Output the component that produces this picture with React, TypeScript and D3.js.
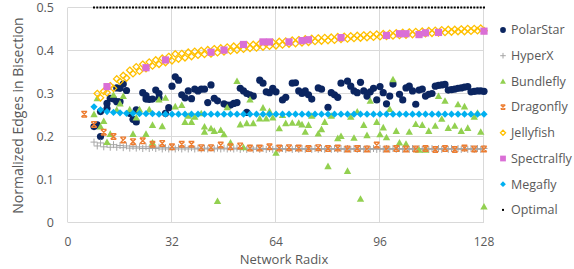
import React from "react";
import * as d3 from "d3";

type P = [number, number];

const xTicks = [0, 32, 64, 96, 128];
const yTicks = [0, 0.1, 0.2, 0.3, 0.4, 0.5];
const yTickLabels = ["0", "0.1", "0.2", "0.3", "0.4", "0.5"];

const polarStar: P[] = [
  [8, 0.223], [9, 0.227], [10, 0.2], [10, 0.258], [12, 0.277], [12, 0.265], [13, 0.289], [14, 0.287],
  [15, 0.313], [15, 0.281], [16, 0.312], [16, 0.281], [17, 0.322], [18, 0.307], [19, 0.254], [20, 0.24],
  [21, 0.234], [21, 0.262], [23, 0.302], [24, 0.295], [24, 0.287], [25, 0.286], [26, 0.287], [27, 0.308],
  [28, 0.3], [28, 0.29], [30, 0.254], [31, 0.267], [32, 0.317], [33, 0.339], [34, 0.331], [35, 0.297],
  [36, 0.29], [37, 0.306], [38, 0.288], [39, 0.31], [40, 0.306], [41, 0.31], [42, 0.31], [43, 0.279],
  [44, 0.32], [45, 0.289], [46, 0.283], [48, 0.276], [49, 0.273], [50, 0.273], [51, 0.277], [52, 0.279],
  [53, 0.312], [54, 0.306], [55, 0.256], [55, 0.3], [56, 0.297], [57, 0.294], [59, 0.331], [60, 0.324],
  [61, 0.304], [62, 0.302], [63, 0.312], [64, 0.304], [66, 0.285], [67, 0.291], [69, 0.324], [70, 0.325],
  [71, 0.306], [72, 0.3], [73, 0.306], [74, 0.297], [75, 0.287], [77, 0.313], [78, 0.31], [80, 0.268],
  [81, 0.302], [82, 0.297], [83, 0.291], [84, 0.324], [86, 0.329], [87, 0.317], [88, 0.306], [89, 0.302],
  [90, 0.326], [91, 0.306], [92, 0.294], [93, 0.304], [94, 0.312], [95, 0.285], [96, 0.316], [97, 0.302],
  [98, 0.276], [99, 0.294], [100, 0.322], [102, 0.298], [103, 0.285], [104, 0.313], [105, 0.317], [106, 0.306],
  [107, 0.275], [108, 0.308], [109, 0.31], [110, 0.294], [111, 0.298], [112, 0.3], [113, 0.317], [114, 0.319],
  [115, 0.32], [116, 0.321], [117, 0.308], [118, 0.309], [119, 0.31], [120, 0.312], [121, 0.313], [122, 0.315],
  [123, 0.316], [124, 0.304], [125, 0.305], [126, 0.306], [127, 0.306], [128, 0.305],
];

const hyperX: P[] = [
  [8, 0.187], [9, 0.178], [10, 0.185], [11, 0.176], [12, 0.183], [13, 0.175], [14, 0.181], [15, 0.175],
  [16, 0.179], [17, 0.174], [18, 0.178], [19, 0.173], [20, 0.177], [21, 0.173], [22, 0.176], [23, 0.172],
  [24, 0.176], [25, 0.172], [26, 0.175], [27, 0.172], [28, 0.175], [29, 0.171], [30, 0.174], [31, 0.171],
  [32, 0.174], [33, 0.171], [34, 0.174], [35, 0.171], [36, 0.174], [37, 0.171], [38, 0.174], [39, 0.171],
  [40, 0.173], [41, 0.171], [42, 0.173], [43, 0.171], [44, 0.173], [45, 0.171], [46, 0.173], [47, 0.171],
  [48, 0.173], [49, 0.171], [50, 0.173], [51, 0.171], [52, 0.173], [53, 0.17], [54, 0.173], [55, 0.17],
  [56, 0.173], [57, 0.17], [58, 0.173], [59, 0.17], [60, 0.172], [61, 0.17], [62, 0.172], [63, 0.17],
  [64, 0.172], [65, 0.17], [66, 0.172], [67, 0.17], [68, 0.172], [69, 0.17], [70, 0.172], [71, 0.17],
  [72, 0.172], [73, 0.17], [74, 0.172], [75, 0.17], [76, 0.172], [77, 0.17], [78, 0.172], [79, 0.17],
  [80, 0.172], [81, 0.17], [82, 0.172], [83, 0.17], [84, 0.172], [85, 0.17], [86, 0.172], [87, 0.17],
  [88, 0.172], [89, 0.17], [90, 0.172], [91, 0.17], [92, 0.172], [93, 0.17], [94, 0.172], [95, 0.17],
  [96, 0.172], [97, 0.17], [98, 0.172], [99, 0.17], [100, 0.172], [101, 0.17], [102, 0.172], [103, 0.17],
  [104, 0.172], [105, 0.17], [106, 0.172], [107, 0.17], [108, 0.172], [109, 0.17], [110, 0.172], [111, 0.17],
  [112, 0.172], [113, 0.17], [114, 0.172], [115, 0.17], [116, 0.172], [117, 0.17], [118, 0.172], [119, 0.17],
  [120, 0.172], [121, 0.17], [122, 0.172], [123, 0.17], [124, 0.172], [125, 0.17], [126, 0.172], [127, 0.17],
  [128, 0.172],
];

const bundlefly: P[] = [
  [8, 0.252], [9, 0.289], [10, 0.223], [11, 0.236], [12, 0.187], [13, 0.206], [14, 0.297], [15, 0.262],
  [16, 0.277], [17, 0.294], [19, 0.263], [20, 0.206], [21, 0.244], [22, 0.263], [24, 0.206], [25, 0.263],
  [26, 0.227], [26, 0.186], [28, 0.286], [29, 0.224], [30, 0.29], [33, 0.27], [35, 0.273], [36, 0.234],
  [37, 0.248], [38, 0.234], [39, 0.246], [41, 0.254], [42, 0.223], [42, 0.211], [44, 0.219], [45, 0.213],
  [46, 0.05], [47, 0.215], [48, 0.205], [49, 0.268], [50, 0.186], [52, 0.329], [53, 0.228], [54, 0.175],
  [55, 0.231], [56, 0.286], [57, 0.231], [59, 0.242], [60, 0.267], [61, 0.242], [62, 0.259], [63, 0.244],
  [64, 0.162], [65, 0.219], [66, 0.25], [67, 0.231], [69, 0.232], [71, 0.232], [72, 0.228], [73, 0.211],
  [74, 0.227], [75, 0.248], [77, 0.207], [78, 0.217], [79, 0.234], [80, 0.131], [81, 0.248], [83, 0.196],
  [84, 0.201], [86, 0.12], [87, 0.246], [88, 0.197], [89, 0.258], [90, 0.055], [91, 0.227], [92, 0.203],
  [93, 0.283], [95, 0.234], [96, 0.205], [97, 0.221], [98, 0.198], [99, 0.264], [100, 0.333], [101, 0.213],
  [102, 0.186], [104, 0.183], [105, 0.211], [107, 0.229], [108, 0.169], [109, 0.227], [110, 0.169], [111, 0.213],
  [113, 0.225], [114, 0.294], [115, 0.241], [116, 0.283], [117, 0.22], [119, 0.225], [120, 0.275], [121, 0.213],
  [122, 0.27], [123, 0.22], [125, 0.246], [126, 0.255], [127, 0.211], [128, 0.037],
];

const dragonfly: P[] = [
  [5, 0.252], [8, 0.228], [11, 0.21], [14, 0.2], [17, 0.192], [20, 0.188], [23, 0.19], [26, 0.182],
  [29, 0.184], [32, 0.176], [35, 0.182], [38, 0.182], [41, 0.174], [44, 0.174], [47, 0.18], [50, 0.176],
  [53, 0.178], [56, 0.173], [59, 0.173], [62, 0.176], [65, 0.173], [68, 0.174], [71, 0.173], [74, 0.172],
  [77, 0.174], [80, 0.172], [83, 0.173], [86, 0.171], [89, 0.172], [92, 0.171], [95, 0.18], [98, 0.171],
  [101, 0.172], [104, 0.171], [107, 0.171], [110, 0.172], [113, 0.17], [116, 0.172], [119, 0.17], [122, 0.173],
  [125, 0.171], [128, 0.171],
];

const jellyfish: P[] = [
  [9, 0.3], [10, 0.29], [11, 0.305], [12, 0.302], [13, 0.318], [14, 0.312], [15, 0.334], [16, 0.328],
  [17, 0.342], [18, 0.336], [19, 0.354], [20, 0.346], [21, 0.362], [22, 0.352], [23, 0.368], [24, 0.358],
  [25, 0.373], [26, 0.364], [27, 0.378], [28, 0.368], [29, 0.382], [30, 0.372], [31, 0.386], [32, 0.376],
  [33, 0.392], [34, 0.38], [35, 0.393], [36, 0.383], [37, 0.396], [38, 0.386], [39, 0.398], [40, 0.389],
  [41, 0.4], [42, 0.391], [43, 0.402], [44, 0.392], [45, 0.404], [46, 0.395], [47, 0.406], [48, 0.397],
  [49, 0.408], [50, 0.399], [51, 0.41], [52, 0.401], [53, 0.411], [54, 0.403], [55, 0.413], [56, 0.405],
  [57, 0.414], [58, 0.406], [59, 0.416], [60, 0.408], [61, 0.417], [62, 0.41], [63, 0.419], [64, 0.411],
  [65, 0.421], [66, 0.413], [67, 0.422], [68, 0.415], [69, 0.424], [70, 0.416], [71, 0.425], [72, 0.418],
  [73, 0.427], [74, 0.419], [75, 0.428], [76, 0.421], [77, 0.429], [78, 0.422], [79, 0.43], [80, 0.423],
  [81, 0.431], [82, 0.424], [83, 0.432], [84, 0.426], [85, 0.433], [86, 0.427], [87, 0.434], [88, 0.428],
  [89, 0.435], [90, 0.429], [91, 0.436], [92, 0.43], [93, 0.437], [94, 0.431], [95, 0.438], [96, 0.432],
  [97, 0.439], [98, 0.433], [99, 0.44], [100, 0.434], [101, 0.441], [102, 0.435], [103, 0.442], [104, 0.436],
  [105, 0.443], [106, 0.437], [107, 0.444], [108, 0.438], [109, 0.445], [110, 0.439], [111, 0.446], [112, 0.44],
  [113, 0.447], [114, 0.441], [115, 0.448], [116, 0.442], [117, 0.449], [118, 0.443], [119, 0.449], [120, 0.444],
  [121, 0.45], [122, 0.444], [123, 0.451], [124, 0.445], [125, 0.451], [126, 0.446], [127, 0.452], [128, 0.446],
];

const spectralfly: P[] = [
  [12, 0.316], [24, 0.36], [30, 0.378], [44, 0.396], [48, 0.401], [54, 0.414], [60, 0.42], [62, 0.42],
  [68, 0.42], [72, 0.423], [74, 0.425], [84, 0.43], [98, 0.435], [102, 0.439], [104, 0.439], [108, 0.437],
  [110, 0.441], [114, 0.442], [128, 0.445],
];

const megafly: P[] = [
  [8, 0.269], [10, 0.262], [12, 0.258], [14, 0.256], [16, 0.255], [18, 0.254], [20, 0.254], [22, 0.253],
  [24, 0.253], [26, 0.253], [28, 0.252], [30, 0.252], [32, 0.252], [34, 0.252], [36, 0.252], [38, 0.252],
  [40, 0.252], [42, 0.252], [44, 0.252], [46, 0.252], [48, 0.252], [50, 0.252], [52, 0.252], [54, 0.252],
  [56, 0.252], [58, 0.252], [60, 0.252], [62, 0.252], [64, 0.252], [66, 0.252], [68, 0.252], [70, 0.252],
  [72, 0.252], [74, 0.252], [76, 0.252], [78, 0.252], [80, 0.252], [82, 0.252], [84, 0.252], [86, 0.252],
  [88, 0.252], [90, 0.252], [92, 0.252], [94, 0.252], [96, 0.252], [98, 0.252], [100, 0.252], [102, 0.252],
  [104, 0.252], [106, 0.252], [108, 0.252], [110, 0.252], [112, 0.252], [114, 0.252], [116, 0.252], [118, 0.252],
  [120, 0.252], [122, 0.252], [124, 0.252], [126, 0.252], [128, 0.252],
];

const optimalRadix: number[] = [
  8, 9, 10, 11, 12, 13, 14, 15, 16, 17, 18, 19, 20, 21, 22, 23, 24, 25, 26, 27, 28, 29, 30, 31, 32, 33, 34,
  35, 36, 37, 38, 39, 40, 41, 42, 43, 44, 45, 46, 47, 48, 49, 50, 51, 52, 53, 54, 55, 56, 57, 58, 59, 60,
  61, 62, 63, 64, 65, 66, 67, 68, 69, 70, 71, 72, 73, 74, 75, 76, 77, 78, 79, 80, 81, 82, 83, 84, 85, 86,
  87, 88, 89, 90, 91, 92, 93, 94, 95, 96, 97, 98, 99, 100, 101, 102, 103, 104, 105, 106, 107, 108, 109, 110,
  111, 112, 113, 114, 115, 116, 117, 118, 119, 120, 121, 122, 123, 124, 125, 126, 127, 128,
];
const optimalValue = 0.5;

const legendNames = ["PolarStar", "HyperX", "Bundlefly", "Dragonfly", "Jellyfish", "Spectralfly", "Megafly", "Optimal"];

const W = 574;
const H = 269;
const FONT = "'Open Sans', 'DejaVu Sans', sans-serif";
const TXT = "#595959";

const x = d3.scaleLinear().domain([0, 128]).range([68, 484]);
const y = d3.scaleLinear().domain([0, 0.5]).range([222.5, 7.5]);

function marker(kind: string, cx: number, cy: number, s: number, key: string | number) {
  switch (kind) {
    case "PolarStar":
      return <circle key={key} cx={cx} cy={cy} r={3.6 * s} fill="#0b2560" />;
    case "HyperX":
      return (
        <path key={key} d={`M${cx - 3.5 * s},${cy}H${cx + 3.5 * s}M${cx},${cy - 3.5 * s}V${cy + 3.5 * s}`}
          stroke="#a6a6a6" strokeWidth={1} fill="none" />
      );
    case "Bundlefly":
      return (
        <path key={key} d={`M${cx},${cy - 3.6 * s}L${cx + 3.7 * s},${cy + 3 * s}L${cx - 3.7 * s},${cy + 3 * s}Z`}
          fill="#92d050" />
      );
    case "Dragonfly": {
      const a = 2.8 * s;
      return (
        <path key={key}
          d={`M${cx - a},${cy - a}L${cx + a},${cy + a}M${cx + a},${cy - a}L${cx - a},${cy + a}M${cx - a},${cy - a}H${cx + a}M${cx - a},${cy + a}H${cx + a}`}
          stroke="#ed7d31" strokeWidth={1.4} fill="none" />
      );
    }
    case "Jellyfish": {
      const a = 3.2 * s;
      return (
        <path key={key} d={`M${cx},${cy - a}L${cx + a},${cy}L${cx},${cy + a}L${cx - a},${cy}Z`}
          stroke="#ffc000" strokeWidth={1.3} fill="none" />
      );
    }
    case "Spectralfly": {
      const a = 3.6 * s;
      return <rect key={key} x={cx - a} y={cy - a} width={2 * a} height={2 * a} fill="#da6fd6" />;
    }
    case "Megafly": {
      const a = 3.6 * s;
      return (
        <path key={key} d={`M${cx},${cy - a}L${cx + a},${cy}L${cx},${cy + a}L${cx - a},${cy}Z`} fill="#00b0f0" />
      );
    }
    case "Optimal":
      return <rect key={key} x={cx - 1} y={cy - 1} width={2} height={2} fill="#000" />;
  }
  return null;
}

export default function App() {
  const series: [string, P[]][] = [
    ["PolarStar", polarStar],
    ["HyperX", hyperX],
    ["Bundlefly", bundlefly],
    ["Dragonfly", dragonfly],
    ["Jellyfish", jellyfish],
    ["Spectralfly", spectralfly],
    ["Megafly", megafly],
    ["Optimal", optimalRadix.map((r) => [r, optimalValue] as P)],
  ];
  return (
    <svg width={W} height={H} style={{ position: "absolute", left: 0, top: 0, background: "#fff" }}
      fontFamily={FONT}>
      <rect x={0} y={0} width={W} height={H} fill="#fff" />
      {yTicks.map((t) => (
        <line key={"gy" + t} x1={x(0)} x2={x(128)} y1={y(t)} y2={y(t)} stroke="#d9d9d9" strokeWidth={1} />
      ))}
      {xTicks.map((t) => (
        <line key={"gx" + t} x1={x(t) - 0.5} x2={x(t) - 0.5} y1={y(0)} y2={y(0.5)} stroke="#d9d9d9" strokeWidth={1} />
      ))}
      {yTicks.map((t, i) => (
        <text key={"ty" + t} x={54} y={y(t)} dy="0.35em" textAnchor="end" fontSize={12.5} fill={TXT}>
          {yTickLabels[i]}
        </text>
      ))}
      {xTicks.map((t) => (
        <text key={"tx" + t} x={x(t)} y={245.5} textAnchor="middle" fontSize={12} fill={TXT}>
          {String(t)}
        </text>
      ))}
      <text x={284} y={263.5} textAnchor="middle" fontSize={13} fill={TXT}>
        Network Radix
      </text>
      <text transform={`translate(18,115.5) rotate(-90)`} dy="0.35em" textAnchor="middle" fontSize={14} fill={TXT}>
        Normalized Edges in Bisection
      </text>
      {series.map(([name, pts]) => (
        <g key={name}>{pts.map((p, i) => marker(name, x(p[0]), y(p[1]), 1, i))}</g>
      ))}
      {legendNames.map((name, i) => {
        const ly = 30 + i * 25.7;
        return (
          <g key={"lg" + name}>
            {marker(name, 503, ly, 0.8, "m")}
            <text x={511} y={ly} dy="0.35em" fontSize={12.5} fill={TXT}>
              {name}
            </text>
          </g>
        );
      })}
    </svg>
  );
}
